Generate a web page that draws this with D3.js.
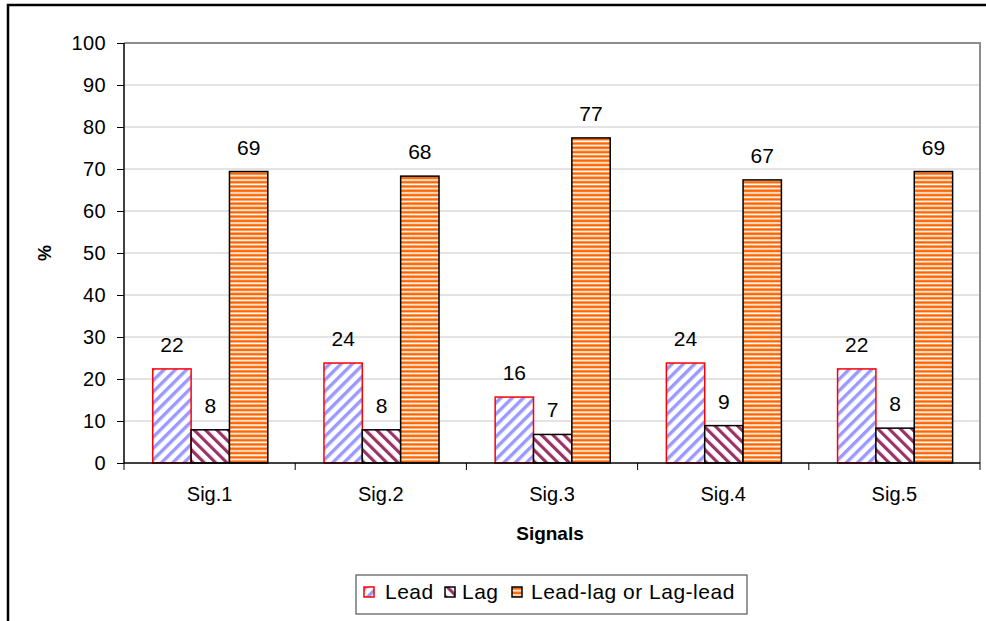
<!DOCTYPE html>
<html>
<head>
<meta charset="utf-8">
<script src="https://cdn.jsdelivr.net/npm/d3@7"></script>
<style>
  body { margin: 0; background: #fff; }
  svg { font-family: "Liberation Sans", Arial, sans-serif; }
</style>
</head>
<body>
<div id="chart"></div>
<script>
// categorias y series
const signals = ["Sig.1", "Sig.2", "Sig.3", "Sig.4", "Sig.5"];
const seriesNames = ["Lead", "Lag", "Lead-lag or Lag-lead"];
const lead = [22.4, 23.8, 15.7, 23.8, 22.4];
const lag = [7.9, 7.9, 6.8, 8.9, 8.3];
const leadLag = [69.4, 68.3, 77.4, 67.4, 69.4];
const yTicks = [0, 10, 20, 30, 40, 50, 60, 70, 80, 90, 100];

const rows = signals.map((s, i) => ({ signal: s, values: [lead[i], lag[i], leadLag[i]] }));

var width = 986, height = 621;
var plot = { left: 124, right: 980, top: 43, bottom: 463 };

var svg = d3.select("#chart").append("svg")
  .attr("width", width)
  .attr("height", height);

// patrones de relleno
var defs = svg.append("defs");

var p1 = defs.append("pattern").attr("id", "pLead")
  .attr("patternUnits", "userSpaceOnUse").attr("width", 8).attr("height", 8)
  .attr("patternTransform", "rotate(45)");
p1.append("rect").attr("width", 8).attr("height", 8).attr("fill", "#fff");
p1.append("rect").attr("width", 3.4).attr("height", 8).attr("fill", "#9999ff");

var p2 = defs.append("pattern").attr("id", "pLag")
  .attr("patternUnits", "userSpaceOnUse").attr("width", 8).attr("height", 8)
  .attr("patternTransform", "rotate(-45)");
p2.append("rect").attr("width", 8).attr("height", 8).attr("fill", "#fff");
p2.append("rect").attr("width", 3.2).attr("height", 8).attr("fill", "#993366");

var p3 = defs.append("pattern").attr("id", "pLeadLag")
  .attr("patternUnits", "userSpaceOnUse").attr("width", 8).attr("height", 4.3);
p3.append("rect").attr("width", 8).attr("height", 4.3).attr("fill", "#fff");
p3.append("rect").attr("y", 0.3).attr("width", 8).attr("height", 2.6).attr("fill", "#ff6600");

var fills = ["url(#pLead)", "url(#pLag)", "url(#pLeadLag)"];
var strokes = ["#ff0000", "#000", "#000"];

// borde exterior
svg.append("rect")
  .attr("x", 8).attr("y", 5).attr("width", 990).attr("height", 640)
  .attr("fill", "none").attr("stroke", "#000").attr("stroke-width", 2.5);

// escalas
var x0 = d3.scaleBand().domain(signals).range([plot.left, plot.right]);
var bw = x0.bandwidth();
var x1 = d3.scaleBand().domain(d3.range(3)).range([bw * 0.168, bw * 0.84]);
var y = d3.scaleLinear().domain([0, 100]).range([plot.bottom, plot.top]);

// grilla
svg.append("g").selectAll("line")
  .data(yTicks.filter(d => d > 0 && d < 100))
  .enter().append("line")
  .attr("x1", plot.left).attr("x2", plot.right)
  .attr("y1", d => y(d)).attr("y2", d => y(d))
  .attr("stroke", "#c8c8c8").attr("stroke-width", 1);

// borde del area de trazado
svg.append("path")
  .attr("d", `M${plot.left},${plot.top}H${plot.right}V${plot.bottom}`)
  .attr("fill", "none").attr("stroke", "#8c8c8c").attr("stroke-width", 2);

// barras
var groups = svg.append("g").selectAll("g")
  .data(rows).enter().append("g")
  .attr("transform", d => "translate(" + x0(d.signal) + ",0)");

groups.selectAll("rect")
  .data(d => d.values.map((v, i) => ({ v: v, i: i })))
  .enter().append("rect")
  .attr("x", d => x1(d.i))
  .attr("y", d => y(d.v))
  .attr("width", x1.bandwidth())
  .attr("height", d => y(0) - y(d.v))
  .attr("fill", d => fills[d.i])
  .attr("stroke", d => strokes[d.i])
  .attr("stroke-width", 1.5);

groups.selectAll("text")
  .data(d => d.values.map((v, i) => ({ v: v, i: i })))
  .enter().append("text")
  .attr("x", d => x1(d.i) + x1.bandwidth() / 2)
  .attr("y", d => y(d.v) - 17)
  .attr("text-anchor", "middle")
  .attr("font-size", 21)
  .text(d => Math.round(d.v));

// eje y
var yAxis = svg.append("g")
  .attr("transform", "translate(" + plot.left + ",0)")
  .call(d3.axisLeft(y).tickValues(yTicks).tickSize(7).tickPadding(11));
yAxis.select(".domain").attr("stroke", "#000").attr("stroke-width", 1.5).attr("d", `M0,${plot.top}V${plot.bottom}`);
yAxis.selectAll(".tick line").attr("stroke", "#000");
yAxis.selectAll("text").attr("font-size", 20).attr("letter-spacing", 0.4)
  .attr("font-family", "Liberation Sans, Arial, sans-serif").attr("fill", "#000");

// eje x
var xAxis = svg.append("g")
  .attr("transform", "translate(0," + plot.bottom + ")")
  .call(d3.axisBottom(x0).tickSize(0).tickPadding(24));
xAxis.select(".domain").attr("stroke", "#000").attr("stroke-width", 1.5).attr("d", `M${plot.left},0H${plot.right}`);
xAxis.selectAll("text").attr("font-size", 20).attr("font-family", "Liberation Sans, Arial, sans-serif").attr("fill", "#000");
xAxis.append("g").selectAll("line")
  .data(signals.map(s => x0(s)).concat([plot.right]))
  .enter().append("line")
  .attr("x1", d => d).attr("x2", d => d)
  .attr("y1", 0).attr("y2", 7)
  .attr("stroke", "#000");

// titulos de ejes
svg.append("text")
  .attr("x", 550).attr("y", 540)
  .attr("text-anchor", "middle")
  .attr("font-size", 19).attr("font-weight", "bold")
  .text("Signals");

svg.append("text")
  .attr("transform", "translate(51,253) rotate(-90)")
  .attr("text-anchor", "middle")
  .attr("font-size", 18).attr("font-weight", "bold")
  .text("%");

// leyenda
var legend = svg.append("g");
legend.append("rect")
  .attr("x", 356).attr("y", 575).attr("width", 391).attr("height", 39)
  .attr("fill", "#fff").attr("stroke", "#555").attr("stroke-width", 1.2);

var legendX = [364, 445, 512];
var textOffset = [21, 17, 19];
var items = legend.selectAll("g.item")
  .data(seriesNames).enter().append("g")
  .attr("transform", (d, i) => "translate(" + legendX[i] + ",587)");
items.append("rect")
  .attr("width", 10).attr("height", 10)
  .attr("fill", (d, i) => fills[i])
  .attr("stroke", (d, i) => strokes[i]).attr("stroke-width", 1.5);
items.append("text")
  .attr("x", (d, i) => textOffset[i]).attr("y", 12)
  .attr("font-size", 21).attr("letter-spacing", 0.5)
  .text(d => d);
</script>
</body>
</html>
